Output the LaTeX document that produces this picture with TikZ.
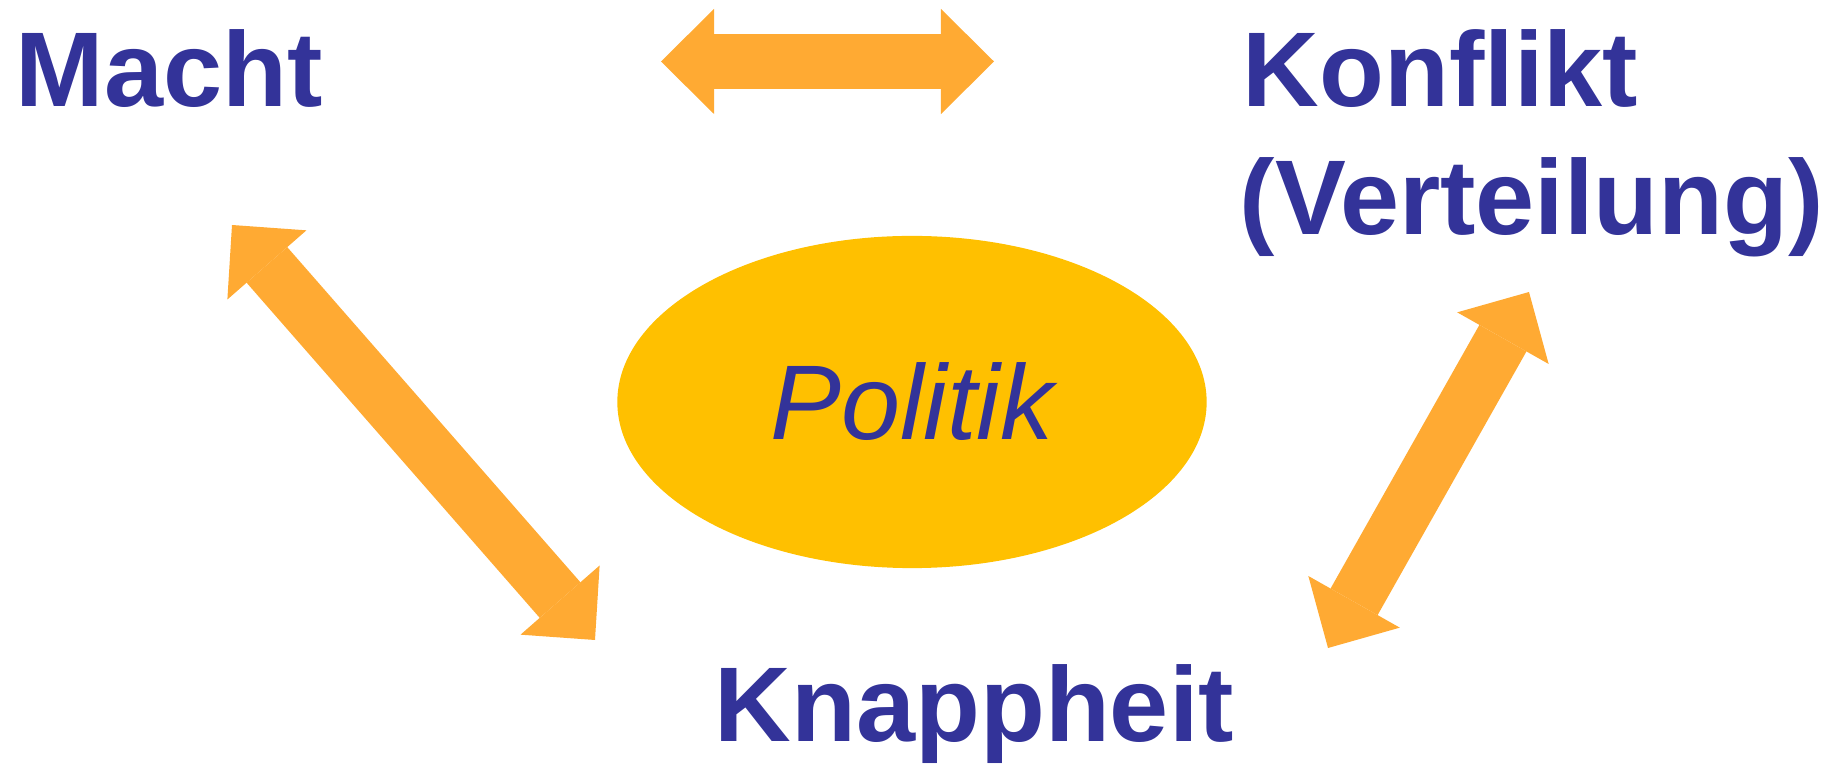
\documentclass[tikz,border=0pt]{standalone}
\usepackage{fontspec}
\setmainfont{Liberation Sans}
\usepackage{tikz}
\usetikzlibrary{arrows.meta,positioning,calc,shapes.geometric}
\definecolor{textblue}{RGB}{51,51,153}
\definecolor{arroworange}{RGB}{255,170,51}
\definecolor{ellipseyellow}{RGB}{255,192,0}

\begin{document}
\begin{tikzpicture}[x=0.01cm,y=-0.01cm,
	word/.style={text=textblue,font=\fontsize{30.2pt}{36pt}\selectfont\bfseries,inner sep=0pt,anchor=base west},
	bigarrow/.style={arroworange,line width=0.54cm,
		{Triangle[length=0.53cm,width=1.05cm,line width=0pt]}-{Triangle[length=0.53cm,width=1.05cm,line width=0pt]}}]
\useasboundingbox (0,0) rectangle (1838,764);

		% Politik in the middle
		\node[ellipse,fill=ellipseyellow,minimum width=5.89cm,minimum height=3.32cm,inner sep=0pt,
			text=textblue,font=\fontsize{30.2pt}{36pt}\selectfont\itshape] (politik) at (912,402) {Politik};

		% the three corners
		\node[word] (macht) at (15,107) {Macht};
		\node[word] (konflikt) at (1242,107) {Konflikt};
		\node[word] (verteilung) at (1239,235) {(Verteilung)};
		\node[word] (knappheit) at (714,742) {Knappheit};

		% arrow ends
		\coordinate (top-l) at (661,61.5);
		\coordinate (top-r) at (994,61.5);
		\coordinate (left-u) at (232,225);
		\coordinate (left-d) at (595,640);
		\coordinate (right-u) at (1529,292);
		\coordinate (right-d) at (1328,648);

		% Macht <-> Konflikt
		\draw[bigarrow] (top-l) -- (top-r);
		% Macht <-> Knappheit
		\draw[bigarrow] (left-u) -- (left-d);
		% Konflikt <-> Knappheit
		\draw[bigarrow] (right-u) -- (right-d);
\end{tikzpicture}
\end{document}
